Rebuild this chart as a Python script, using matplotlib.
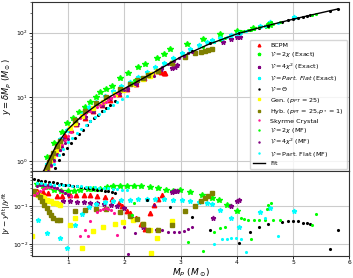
import matplotlib
matplotlib.use("Agg")
import matplotlib.pyplot as plt
import numpy as np

# ---- fit curve ----
fit_m = [0.55, 0.65, 0.8, 1.0, 1.25, 1.5, 1.75, 2.0, 2.5, 3.0, 3.5, 4.0, 4.5, 5.0, 5.4, 5.8]
fit_y = [0.66, 1.0, 1.82, 3.16, 5.1, 7.4, 10.2, 13.5, 23.4, 41.7, 66, 95.5, 126, 162, 195, 234]

# ---- BCPM ----
bcpm_m = [0.55, 0.62, 0.70, 0.77, 0.85, 0.95, 1.05, 1.15, 1.30, 1.45, 1.60, 1.75, 1.90, 2.05,
          2.20, 2.35, 2.48, 2.58, 2.65, 2.70, 2.73]
bcpm_y = [0.56, 0.79, 1.15, 1.51, 1.91, 2.51, 3.09, 3.80, 4.79, 6.03, 7.41, 8.91, 10.96, 13.18,
          15.85, 19.95, 22.9, 25.1, 24.5, 23.6, 23.8]
bcpm_rm = [0.45, 0.55, 0.65, 0.8, 0.9, 1.04, 1.15, 1.28, 1.4, 1.52, 1.65, 1.78, 1.9, 1.96, 2.05,
           2.1, 2.2, 2.3, 2.37, 2.46, 2.52, 2.6, 2.67]
bcpm_r = [0.25, 0.24, 0.22, 0.19, 0.19, 0.20, 0.20, 0.20, 0.195, 0.19, 0.18, 0.16, 0.126, 0.10,
          0.076, 0.068, 0.050, 0.035, 0.025, 0.068, 0.107, 0.158, 0.204]

# ---- V = 2chi (Exact) ----
g_ex_m = [0.62, 0.75, 0.89, 0.99, 1.09, 1.2, 1.3, 1.4, 1.49, 1.57, 1.68, 1.78, 1.93, 2.07, 2.25,
          2.37, 2.58, 2.7, 2.81, 3.11, 3.4, 3.7, 4.0, 4.29, 4.53, 4.58]
g_ex_y = [1.15, 1.9, 2.9, 3.9, 4.8, 5.9, 7.0, 8.5, 10, 11.8, 13.5, 15, 20, 24, 29.5, 33, 40, 46,
          55, 66, 81, 95, 107, 117, 126, 130]
g_ex_rm = [0.45, 0.55, 0.65, 0.75, 0.88, 1.0, 1.1, 1.22, 1.35, 1.45, 1.57, 1.7, 1.8, 1.93, 2.05,
           2.17, 2.3, 2.45, 2.6, 2.75, 2.87, 2.99, 3.17, 3.38, 3.55, 3.69, 3.82, 4.0]
g_ex_r = [0.40, 0.355, 0.32, 0.28, 0.25, 0.25, 0.26, 0.28, 0.29, 0.295, 0.295, 0.32, 0.34, 0.355,
          0.355, 0.35, 0.34, 0.32, 0.30, 0.28, 0.26, 0.27, 0.245, 0.204, 0.166, 0.145, 0.112, 0.074]

# ---- V = 4chi^2 (Exact) ----
p_ex_m = [0.5, 0.6, 0.7, 0.8, 0.92, 1.04, 1.16, 1.3, 1.45, 1.6, 1.75, 1.9, 2.05, 2.2, 2.35, 2.5,
          2.65, 2.85, 2.9, 2.94, 3.75, 3.9, 4.0, 4.05]
p_ex_y = [0.48, 0.72, 1.10, 1.62, 2.24, 3.02, 3.80, 4.90, 6.17, 7.59, 9.77, 11.5, 13.5, 16.2,
          19.1, 22.4, 26.9, 28.2, 29.5, 30.9, 70.8, 79.4, 85.1, 87.1]
p_ex_rm = [0.92, 1.04, 1.16, 1.28, 1.4, 1.52, 1.64, 1.76, 1.88, 2.0, 2.16, 2.34, 2.58, 2.85, 2.88,
           2.91, 2.94, 3.58, 3.9, 4.0, 4.03]
p_ex_r = [0.135, 0.135, 0.132, 0.129, 0.126, 0.12, 0.115, 0.107, 0.10, 0.089, 0.047, 0.029, 0.024,
          0.24, 0.25, 0.25, 0.26, 0.05, 0.10, 0.135, 0.15]

# ---- V = Part. Flat (Exact) ----
c_ex_m = [0.47, 0.62, 0.86, 0.98, 1.13, 1.25, 1.38, 1.5, 1.65, 1.8, 1.95, 2.1, 2.25, 2.4, 2.55,
          2.7, 2.87, 3.02, 3.17, 3.32, 3.47, 3.55, 3.7, 3.9, 4.03, 4.41, 4.59, 5.02]
c_ex_y = [0.50, 0.91, 2.19, 3.09, 4.22, 5.46, 6.92, 8.32, 10.4, 12.3, 14.6, 17.4, 20.7, 24.2,
          28.8, 34.2, 40.7, 48.4, 55.6, 63.7, 72.4, 77.6, 83.2, 93.3, 100, 129, 145, 174]
c_ex_r = [0.044, 0.020, 0.0145, 0.0079, 0.032, 0.063, 0.095, 0.117, 0.132, 0.141, 0.148, 0.151,
          0.155, 0.158, 0.158, 0.158, 0.151, 0.145, 0.138, 0.132, 0.126, 0.117, 0.081, 0.049,
          0.029, 0.069, 0.089, 0.074]

# ---- V = Theta ----
th_m = [0.70, 0.77, 0.84, 0.91, 0.98, 1.05, 1.12, 1.19, 1.26, 1.33, 1.40, 1.47, 1.54, 1.61, 1.68,
        1.75, 1.84, 2.41, 2.81, 3.21, 3.52, 4.03, 4.23, 4.40, 4.56, 4.81, 4.91, 5.00, 5.09, 5.18,
        5.25, 5.30, 5.65, 5.80]
th_y = [0.59, 0.78, 1.04, 1.29, 1.63, 1.93, 2.28, 2.70, 3.12, 3.61, 4.17, 4.71, 5.32, 6.01, 6.79,
        7.50, 8.71, 21.1, 33.5, 51, 68, 98, 110, 120, 129, 148, 155, 162, 170, 178, 184, 188, 220, 234]
th_rm = [0.39, 0.46, 0.53, 0.6, 0.67, 0.74, 0.81, 0.88, 0.95, 1.02, 1.09, 1.16, 1.23, 1.3, 1.37,
         1.44, 1.51, 1.58, 1.65, 1.72, 1.78, 1.84, 2.40, 2.81, 3.21, 3.52, 4.03, 4.23, 4.40, 4.56,
         4.81, 4.91, 5.00, 5.09, 5.18, 5.25, 5.30, 5.65, 5.80]
th_r = [0.52, 0.50, 0.48, 0.46, 0.44, 0.43, 0.41, 0.39, 0.38, 0.36, 0.35, 0.34, 0.32, 0.31, 0.30,
        0.29, 0.28, 0.27, 0.26, 0.25, 0.24, 0.23, 0.15, 0.098, 0.052, 0.024, 0.0105, 0.021, 0.029,
        0.034, 0.039, 0.040, 0.042, 0.040, 0.037, 0.036, 0.035, 0.0076, 0.024]

# ---- Gen. ----
gen_m = [0.37, 0.38, 0.42, 0.46, 0.5, 0.54, 0.58, 0.62, 0.66, 0.7, 0.74, 0.78, 0.82, 0.86, 1.04,
         1.13, 1.25, 1.45, 1.63, 1.84, 1.98, 2.16, 2.34, 2.46, 2.47, 2.58, 2.84]
gen_y = [0.32, 0.25, 0.30, 0.36, 0.44, 0.52, 0.62, 0.76, 0.89, 1.05, 1.20, 1.41, 1.70, 1.91, 3.31,
         3.89, 5.01, 6.76, 8.51, 11.0, 12.9, 15.8, 19.1, 21.4, 22.4, 25.1, 33.9]
gen_r = [0.016, 0.24, 0.22, 0.20, 0.186, 0.174, 0.162, 0.151, 0.141, 0.135, 0.126, 0.12, 0.115,
         0.11, 0.032, 0.05, 0.0079, 0.022, 0.029, 0.035, 0.039, 0.044, 0.035, 0.024, 0.0058,
         0.0145, 0.04]

# ---- Hyb. ----
hyb_m = [0.40, 0.45, 0.5, 0.54, 0.58, 0.62, 0.66, 0.7, 0.74, 0.8, 0.86, 1.13, 1.31, 1.5, 1.68,
         1.93, 2.1, 2.22, 2.33, 2.43, 2.6, 2.84, 3.08, 3.26, 3.36, 3.43, 3.49, 3.55]
hyb_y = [0.27, 0.35, 0.44, 0.54, 0.66, 0.81, 0.98, 1.16, 1.36, 1.74, 2.04, 4.37, 6.10, 8.04, 10.1,
         13.3, 16.0, 18.2, 20.0, 22.1, 25.7, 33.6, 41.4, 47.8, 50.7, 51.3, 53.1, 55.0]
hyb_r = [0.25, 0.21, 0.178, 0.141, 0.112, 0.089, 0.071, 0.059, 0.050, 0.044, 0.044, 0.074, 0.081,
         0.085, 0.085, 0.069, 0.054, 0.045, 0.034, 0.024, 0.0234, 0.032, 0.074, 0.105, 0.135,
         0.17, 0.19, 0.22]

# ---- Skyrme Crystal ----
sky_m = [0.40, 0.45, 0.5, 0.55, 0.6, 0.65, 0.7, 0.75, 0.8, 0.85, 0.9, 0.95, 1.0, 1.05, 1.22, 1.30,
         1.36, 1.40, 1.52, 1.57, 1.62, 1.67, 1.72, 1.77, 1.82, 1.87]
sky_y = [0.28, 0.34, 0.40, 0.47, 0.57, 0.68, 0.84, 1.02, 1.27, 1.51, 1.80, 2.12, 2.50, 2.81, 4.73,
         5.37, 5.96, 6.17, 7.08, 7.5, 8.04, 8.51, 9.02, 9.66, 10.2, 11.5]
sky_r = [0.20, 0.23, 0.26, 0.29, 0.30, 0.32, 0.32, 0.31, 0.30, 0.275, 0.25, 0.23, 0.21, 0.19,
         0.016, 0.024, 0.016, 0.04, 0.071, 0.079, 0.085, 0.089, 0.087, 0.079, 0.066, 0.0174]

# ---- V = 2chi (MF) ----
g_mf_m = [2.13, 2.17, 3.14, 3.39, 3.6, 3.7, 3.79, 4.08, 4.12, 4.2, 4.25, 4.3, 4.4, 4.5, 4.53,
          4.56, 4.6, 4.65, 4.77, 5.33, 5.4]
g_mf_y = [16.6, 18.2, 47.6, 59.9, 71.4, 77.6, 83.2, 104.7, 104.7, 109, 110, 116, 122, 128, 138,
          143, 148, 137, 146, 188, 197]
g_mf_r = [0.06, 0.126, 0.0115, 0.0066, 0.021, 0.027, 0.029, 0.05, 0.045, 0.043, 0.014, 0.043,
          0.043, 0.043, 0.087, 0.112, 0.126, 0.043, 0.043, 0.032, 0.063]

# ---- V = 4chi^2 (MF) ----
p_mf_m = [0.45, 0.5, 0.55, 0.6, 0.65, 0.7, 0.75, 0.8, 0.85, 0.9, 0.95, 1.0, 1.99, 2.07, 2.19,
          2.52, 2.67, 2.78, 2.88, 2.97, 3.06, 3.14, 3.2]
p_mf_y = [0.31, 0.38, 0.47, 0.58, 0.71, 0.87, 1.05, 1.29, 1.48, 1.70, 1.95, 2.24, 12.9, 14.0,
          16.0, 21.4, 28.8, 32.4, 36.3, 39.8, 43.7, 47.9, 50.1]
p_mf_r = [0.355, 0.37, 0.38, 0.38, 0.37, 0.355, 0.33, 0.30, 0.275, 0.25, 0.224, 0.20, 0.029,
          0.0054, 0.0195, 0.112, 0.024, 0.021, 0.021, 0.021, 0.022, 0.025, 0.028]

# ---- V = Part. Flat (MF) ----
c_mf_m = [0.45, 0.52, 0.6, 0.68, 0.76, 0.84, 0.92, 1.0, 1.08, 1.16, 1.24, 1.32, 1.4, 1.48, 1.56,
          1.64, 1.72, 1.8, 1.88, 1.96, 2.04, 3.6, 3.73, 3.82, 3.9, 3.98, 4.08, 4.17, 4.5, 4.73]
c_mf_y = [0.25, 0.34, 0.48, 0.68, 0.92, 1.24, 1.57, 1.97, 2.32, 2.72, 3.24, 3.72, 4.27, 4.84,
          5.43, 6.10, 6.76, 7.50, 8.32, 9.23, 10.2, 70.8, 78.5, 84.1, 89.1, 94.4, 100, 106, 126, 143]
c_mf_r = [0.42, 0.41, 0.40, 0.39, 0.38, 0.375, 0.37, 0.36, 0.355, 0.35, 0.34, 0.335, 0.33, 0.32,
          0.31, 0.305, 0.30, 0.29, 0.285, 0.28, 0.27, 0.01, 0.0135, 0.0138, 0.0141, 0.0145,
          0.0138, 0.0063, 0.05, 0.0162]

fig = plt.figure(figsize=(3.53, 2.78), dpi=100)
gs = fig.add_gridspec(2, 1, height_ratios=[2, 1], hspace=0,
                      left=0.092, right=0.99, top=0.993, bottom=0.079)
ax = fig.add_subplot(gs[0])
axr = fig.add_subplot(gs[1], sharex=ax)

series = [
    (bcpm_m, bcpm_y, bcpm_rm, bcpm_r, 'BCPM', '^', 'red', 3.2),
    (g_ex_m, g_ex_y, g_ex_rm, g_ex_r, r'$\mathcal{V} = 2\chi$ (Exact)', '*', 'lime', 4.0),
    (p_ex_m, p_ex_y, p_ex_rm, p_ex_r, r'$\mathcal{V} = 4\chi^2$ (Exact)', '*', 'purple', 3.5),
    (c_ex_m, c_ex_y, c_ex_m, c_ex_r, r'$\mathcal{V} = Part.\,Flat$ (Exact)', '*', 'cyan', 3.5),
    (th_m, th_y, th_rm, th_r, r'$\mathcal{V} = \Theta$', '.', 'black', 2.5),
    (gen_m, gen_y, gen_m, gen_r, r'Gen. ($p_{PT}$ = 25)', 's', 'yellow', 3.0),
    (hyb_m, hyb_y, hyb_m, hyb_r, r'Hyb. ($p_{PT}$ = 25,$p_*$ = 1)', 's', 'olive', 3.5),
    (sky_m, sky_y, sky_m, sky_r, 'Skyrme Crystal', '.', 'deeppink', 2.5),
    (g_mf_m, g_mf_y, g_mf_m, g_mf_r, r'$\mathcal{V} = 2\chi$ (MF)', '.', 'lime', 2.5),
    (p_mf_m, p_mf_y, p_mf_m, p_mf_r, r'$\mathcal{V} = 4\chi^2$ (MF)', '.', 'purple', 2.5),
    (c_mf_m, c_mf_y, c_mf_m, c_mf_r, r'$\mathcal{V} = $Part. Flat (MF)', '.', 'cyan', 2.5),
]

for m, y, rm, r, lab, mk, col, ms in series:
    ax.plot(m, y, linestyle='none', marker=mk, color=col, markersize=ms, label=lab)
    axr.plot(rm, r, linestyle='none', marker=mk, color=col, markersize=ms)

ax.plot(fit_m, fit_y, color='black', linewidth=1.0, label='Fit')

ax.set_yscale('log')
axr.set_yscale('log')
ax.set_xlim(0.37, 6.0)
ax.set_ylim(0.7, 300)
axr.set_ylim(0.0048, 0.85)

for a in (ax, axr):
    a.grid(True, color='#cccccc', linewidth=0.8)
    a.tick_params(labelsize=4.3, length=2, width=0.6, pad=1)
    a.tick_params(which='minor', length=1.2, width=0.4)
    for s in a.spines.values():
        s.set_linewidth(0.8)
        s.set_color('#333333')
plt.setp(ax.get_xticklabels(), visible=False)
ax.tick_params(axis='x', length=0)

ax.set_ylabel(r'$y = \overline{\delta M_P}\ (M_\odot)$', fontsize=6)
axr.set_ylabel(r'$|y - y^{\rm fit}|/y^{\rm fit}$', fontsize=5.4)
axr.set_xlabel(r'$M_P\ (M_\odot)$', fontsize=6.5)
ax.yaxis.set_label_coords(-0.058, 0.5)
axr.yaxis.set_label_coords(-0.058, 0.5)
axr.xaxis.set_label_coords(0.5, -0.12)

ax.legend(loc='lower right', fontsize=4.6, markerscale=0.6, handlelength=2.0,
          borderaxespad=0.4, labelspacing=0.35, handletextpad=0.8, borderpad=0.4)

fig.savefig('out.png', dpi=100)
